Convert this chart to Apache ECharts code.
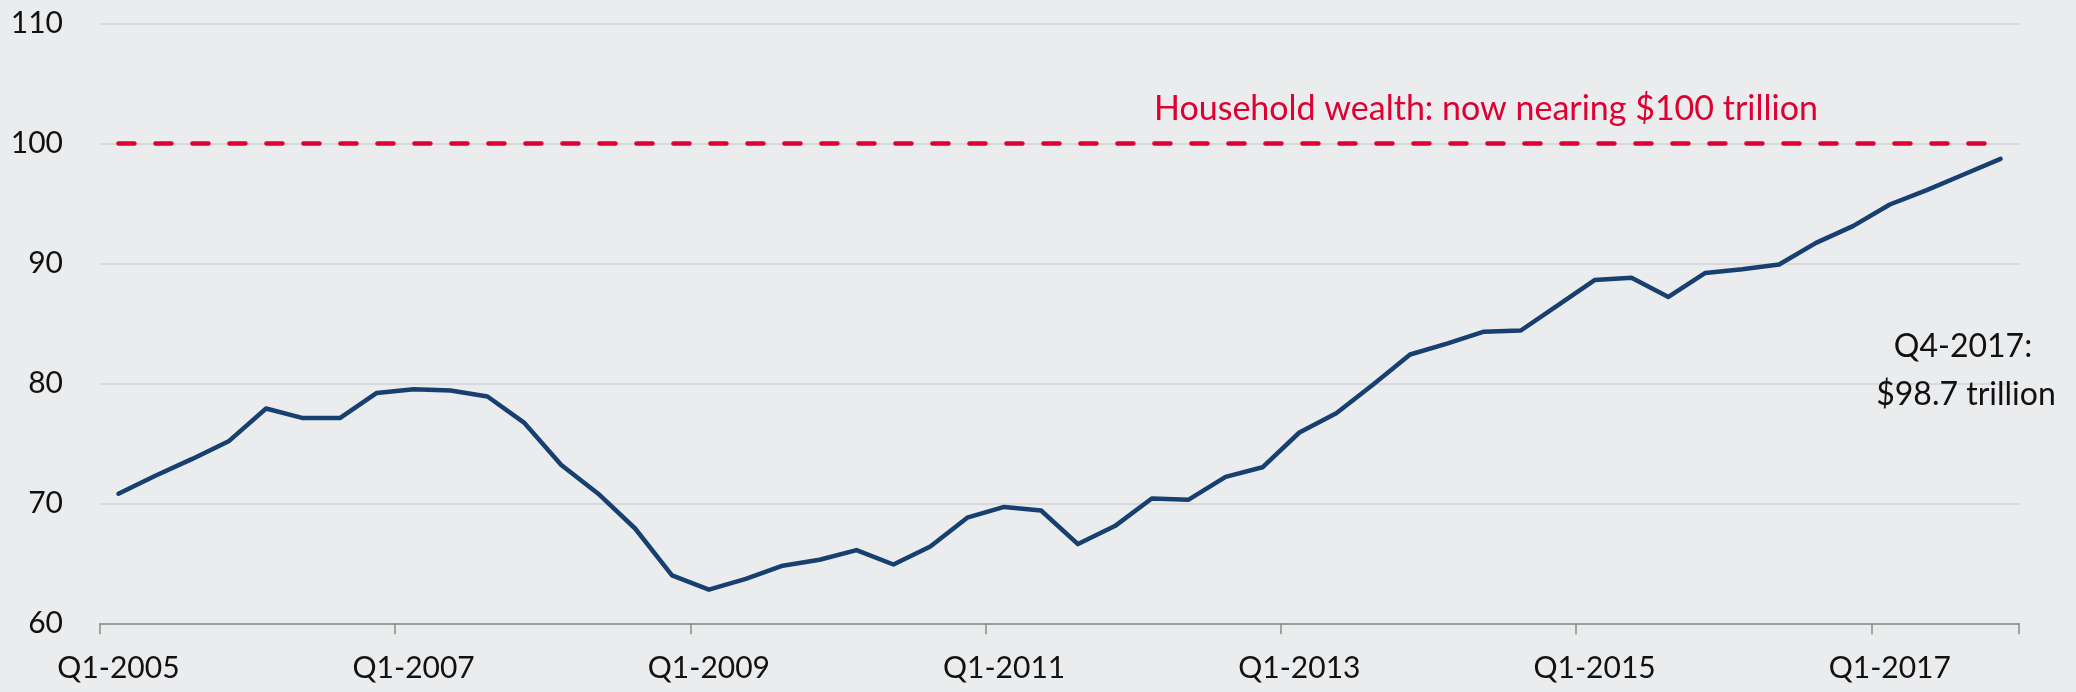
<!DOCTYPE html>
<html>
<head>
<meta charset="utf-8">
<script src="https://cdn.jsdelivr.net/npm/echarts@6/dist/echarts.min.js"></script>
<style>
  html, body { margin: 0; padding: 0; background: #ebecee; }
  #chart { width: 2076px; height: 692px; }
</style>
</head>
<body>
<div id="chart"></div>
<script>
// ---- data ----
const YEARS = [2005, 2006, 2007, 2008, 2009, 2010, 2011, 2012, 2013, 2014, 2015, 2016, 2017];
const QUARTERS = ['Q1', 'Q2', 'Q3', 'Q4'];
const categories = [];
YEARS.forEach(y => QUARTERS.forEach(q => categories.push(q + '-' + y)));

// Household net worth, $ trillion
const wealth = [
  70.8, 72.3, 73.7, 75.2, 77.9, 77.1, 77.1, 79.2,
  79.5, 79.4, 78.9, 76.7, 73.2, 70.8, 67.9, 64.0,
  62.8, 63.7, 64.8, 65.3, 66.1, 64.9, 66.4, 68.8,
  69.7, 69.4, 66.6, 68.1, 70.4, 70.3, 72.2, 73.0,
  75.9, 77.5, 79.9, 82.4, 83.3, 84.3, 84.4, 86.5,
  88.6, 88.8, 87.2, 89.2, 89.5, 89.9, 91.7, 93.1,
  94.9, 96.1, 97.4, 98.7
];
const THRESHOLD = 100;
const thresholdLabel = 'Household wealth: now nearing $100 trillion';
const endLabel = ['Q4-2017:', '$98.7 trillion'];
const yTicks = { min: 60, max: 110, interval: 10 };

// ---- chart ----
const FONT = 'Lato';
const chart = echarts.init(document.getElementById('chart'));
chart.setOption({
  backgroundColor: '#ebecee',
  animation: false,
  grid: { left: 100, right: 57, top: 23.3, bottom: 68.7, containLabel: false },
  xAxis: {
    type: 'category',
    data: categories,
    boundaryGap: true,
    axisLine: { lineStyle: { color: '#8a8a8a', width: 1.5 } },
    axisTick: { show: true, length: 11, interval: 7, lineStyle: { color: '#8a8a8a', width: 1.5 } },
    axisLabel: { interval: 7, margin: 30, color: '#111', fontFamily: FONT, fontSize: 30 },
    splitLine: { show: false }
  },
  yAxis: {
    type: 'value',
    min: yTicks.min, max: yTicks.max, interval: yTicks.interval,
    axisLine: { show: false },
    axisTick: { show: false },
    axisLabel: { margin: 37, color: '#111', fontFamily: FONT, fontSize: 30 },
    splitLine: { show: true, lineStyle: { color: '#d8d9dc', width: 2 } }
  },
  series: [{
    type: 'line',
    data: wealth,
    symbol: 'none',
    lineStyle: { color: '#173f6f', width: 4.5, cap: 'round', join: 'round' },
    markLine: {
      silent: true,
      symbol: 'none',
      label: { show: false },
      lineStyle: { color: '#dd0031', width: 4.5, type: [16, 21], cap: 'round' },
      data: [[
        { coord: [categories[0], THRESHOLD] },
        { coord: [categories[categories.length - 1], THRESHOLD] }
      ]]
    }
  }],
  graphic: [
    { type: 'text', x: 1154, y: 109, z: 100,
      style: { text: thresholdLabel, fill: '#dd0031', font: '34px Lato', textVerticalAlign: 'middle' } },
    { type: 'text', x: 1963, y: 347, z: 100,
      style: { text: endLabel[0], fill: '#111', font: '32px Lato', textAlign: 'center', textVerticalAlign: 'middle' } },
    { type: 'text', x: 1966, y: 395, z: 100,
      style: { text: endLabel[1], fill: '#111', font: '32px Lato', textAlign: 'center', textVerticalAlign: 'middle' } }
  ]
});
</script>
</body>
</html>
